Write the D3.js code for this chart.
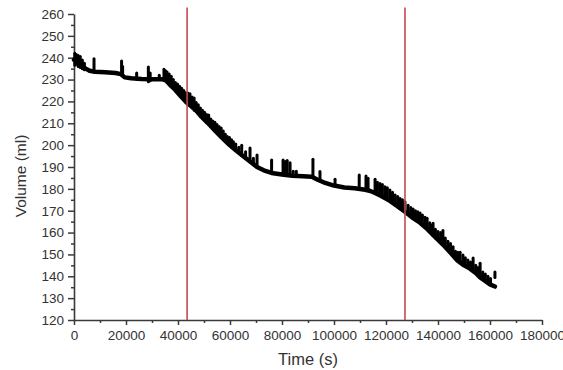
<!DOCTYPE html>
<html>
<head>
<meta charset="utf-8">
<script src="https://cdn.jsdelivr.net/npm/d3@7"></script>
<style>
  html, body { margin: 0; padding: 0; background: #fff; }
  svg { display: block; }
  text { font-family: "Liberation Sans", Arial, sans-serif; }
</style>
</head>
<body>
<svg id="chart" width="563" height="370"></svg>
<script>
// Main volume trace (time in s, volume in ml)
const traceTime = [0, 1500, 3000, 4500, 6000, 8000, 12000, 16000, 18000, 19500, 22000, 26000, 30000, 34000,
  35500, 37000, 38800, 41000, 43300, 46500, 49000, 51600, 54000, 56800, 59000, 61900, 64500, 67700, 70400,
  73000, 76000, 80000, 84000, 88000, 91500, 93500, 96000, 100000, 104000, 108000, 112000, 114000, 116000,
  118000, 121500, 124500, 127300, 130000, 133100, 136000, 138500, 141900, 145000, 147200, 150000, 152300,
  154500, 156200, 158000, 160000, 161900];
const traceVolume = [239, 238, 236.5, 235, 234, 233.6, 233.3, 233, 232.5, 231, 230.6, 230.3, 230.2, 230.2,
  229.5, 227.5, 225.5, 222.5, 219.5, 216.5, 213, 210, 207, 203.5, 201, 198, 195.5, 192.5, 190,
  188.5, 187.3, 186.6, 186, 185.8, 185.5, 184.3, 183, 181.5, 180.6, 180.3, 179.6, 179, 178,
  176.8, 174.5, 172, 169.5, 167, 164.5, 161.5, 158.5, 154.5, 150.5, 147.5, 145, 143.5,
  141.5, 139.5, 138, 136.3, 135.3];

// Scattered readings above the trace: time, lowest and highest volume
const spikeTime = [300, 900, 1600, 2400, 3200, 4000,
  7700, 18300, 18700, 24100, 28600, 29300, 32800, 34600, 35200, 35800,
  36600, 37400, 38200, 39000, 39800, 40600, 41400, 42200, 43000, 43800, 44600, 45400, 46200, 47000,
  47800, 48600, 49400, 50200, 51000, 51800, 52600, 53400, 54200, 55000, 55800, 56600, 57400, 58200,
  59000, 59800, 60600, 61300, 62200, 63400, 64500, 66000, 67700, 69000, 70400, 76000,
  80400, 81200, 82000, 83100, 84300, 85500, 91900, 94600, 100400, 109700, 112300, 113100,
  115800, 116700, 117700, 118600, 119600, 120500, 121500, 122500, 123500, 124500, 125400, 126300,
  127300, 128500, 129500, 130400, 131300, 132200, 133100, 134000, 135000, 135800, 136800, 137800,
  138100, 139000, 140000, 141000, 141900, 142800, 143800, 144800, 145800, 146700, 147600, 148500,
  149600, 150500, 151500, 152500, 153500, 154500, 155400, 156200, 157200, 158200, 159200, 160200, 161900];
const spikeLow = [236.5, 237, 236, 235.5, 235, 234.5,
  233.5, 232.5, 232, 230.3, 229, 229.5, 230, 229.8, 229.5, 229,
  228, 227, 226, 225, 224, 223, 222, 221, 220, 219, 218, 217, 216, 215.5,
  214.5, 213.5, 212.5, 211.5, 210.5, 209.5, 208.5, 207.5, 206.5, 205.5, 204.5, 203.5, 202.5, 201.5,
  201, 200, 199, 198.5, 197.5, 196.5, 195.5, 194, 192.5, 191, 190, 187.3,
  186.6, 186.5, 186.5, 186.3, 186, 186, 185.5, 184, 181.5, 180.2, 179.6, 179.4,
  178.1, 177.6, 177, 176.4, 175.7, 175, 174.5, 173.7, 172.8, 172, 171, 170.3,
  169.5, 168.4, 167.5, 166.8, 166, 165.3, 164.5, 163.5, 162.5, 161.8, 160.5, 159.3,
  158.5, 157.5, 156.5, 155.5, 154.5, 153.5, 152, 151, 150, 148.5, 147.2, 146.5,
  145.5, 144.8, 144, 143.3, 142.5, 141.5, 140.5, 139.5, 138.8, 138, 137.2, 136.3, 139.5];
const spikeHigh = [242, 241.5, 241, 240.5, 239, 237.5,
  239.5, 238.5, 236, 233, 235.8, 233, 232, 234.7, 234, 233.5,
  232.5, 231.5, 230, 228.7, 228, 227, 226, 225, 224, 223.8, 223.5, 222, 221.6, 219.5,
  218.5, 217, 216, 215, 214, 213.8, 212, 211, 210.5, 209.5, 208.5, 207.8, 206.5, 205,
  204, 203.5, 202.5, 201.6, 200.5, 199, 200, 197, 198.7, 194, 195.5, 193.2,
  193.2, 192.5, 193, 192, 188, 188, 193.5, 187.9, 184.4, 186.3, 185.9, 184.8,
  184.4, 183, 182.5, 182, 181, 180.5, 179.5, 178.5, 177.2, 176.5, 175.6, 175,
  174.1, 172.5, 171.5, 170.8, 170, 169.5, 169, 168, 167, 166.6, 164.5, 163.5,
  164.3, 161.5, 160.5, 160, 161, 157.5, 156, 155, 153.5, 151.5, 151, 151,
  149.7, 148.5, 147.5, 146.5, 148.4, 145, 144, 146, 142, 141, 140, 139, 142];

// Vertical reference lines
const markerTime = [43500, 127300];
const markerTop = 263;

// Axis ticks
const xTicks = [0, 20000, 40000, 60000, 80000, 100000, 120000, 140000, 160000, 180000];
const xMinorTicks = [10000, 30000, 50000, 70000, 90000, 110000, 130000, 150000, 170000];
const yTicks = [120, 130, 140, 150, 160, 170, 180, 190, 200, 210, 220, 230, 240, 250, 260];
const yMinorTicks = [125, 135, 145, 155, 165, 175, 185, 195, 205, 215, 225, 235, 245, 255];

const svg = d3.select("#chart");
const x = d3.scaleLinear().domain([0, 180000]).range([74, 542]);
const y = d3.scaleLinear().domain([120, 260]).range([320, 14]);

const axisColor = "#3a3a3a";
const labelColor = "#333";

// Minor ticks (drawn first so the main axes sit on top)
svg.append("g")
  .attr("transform", `translate(0,${y(120)})`)
  .call(d3.axisBottom(x).tickValues(xMinorTicks).tickSize(3).tickSizeOuter(0).tickFormat(""))
  .call(g => g.select(".domain").remove())
  .call(g => g.selectAll("line").attr("stroke", axisColor).attr("stroke-width", 1.5));
svg.append("g")
  .attr("transform", `translate(${x(0)},0)`)
  .call(d3.axisLeft(y).tickValues(yMinorTicks).tickSize(3).tickSizeOuter(0).tickFormat(""))
  .call(g => g.select(".domain").remove())
  .call(g => g.selectAll("line").attr("stroke", axisColor).attr("stroke-width", 1.5));

// Bottom axis
const gx = svg.append("g")
  .attr("transform", `translate(0,${y(120)})`)
  .call(d3.axisBottom(x).tickValues(xTicks).tickSize(5).tickSizeOuter(0).tickPadding(5).tickFormat(d3.format("d")));
gx.select(".domain").attr("stroke", axisColor).attr("stroke-width", 1.6);
gx.selectAll("line").attr("stroke", axisColor).attr("stroke-width", 1.5);
gx.selectAll("text").attr("fill", labelColor).attr("font-size", 13.5).attr("font-family", "Liberation Sans, Arial, sans-serif");

// Left axis
const gy = svg.append("g")
  .attr("transform", `translate(${x(0)},0)`)
  .call(d3.axisLeft(y).tickValues(yTicks).tickSize(6).tickSizeOuter(0).tickPadding(4));
gy.select(".domain").attr("stroke", axisColor).attr("stroke-width", 1.6);
gy.selectAll("line").attr("stroke", axisColor).attr("stroke-width", 1.5);
gy.selectAll("text").attr("fill", labelColor).attr("font-size", 13.5).attr("font-family", "Liberation Sans, Arial, sans-serif");

// Axis titles
svg.append("text")
  .attr("x", 308).attr("y", 365)
  .attr("text-anchor", "middle")
  .attr("font-size", 16.5)
  .attr("fill", labelColor)
  .text("Time (s)");
svg.append("text")
  .attr("transform", `translate(26,${176}) rotate(-90)`)
  .attr("text-anchor", "middle")
  .attr("font-size", 15.5)
  .attr("fill", labelColor)
  .text("Volume (ml)");

// Volume trace
const trace = traceTime.map((t, i) => [t, traceVolume[i]]);
svg.append("path")
  .datum(trace)
  .attr("fill", "none")
  .attr("stroke", "#000")
  .attr("stroke-width", 4.5)
  .attr("stroke-linejoin", "round")
  .attr("stroke-linecap", "round")
  .attr("d", d3.line().x(d => x(d[0])).y(d => y(d[1])));

// Scattered readings
svg.append("g")
  .selectAll("line")
  .data(spikeTime.map((t, i) => ({ t, lo: spikeLow[i], hi: spikeHigh[i] })))
  .join("line")
  .attr("x1", d => x(d.t)).attr("x2", d => x(d.t))
  .attr("y1", d => y(d.lo)).attr("y2", d => y(d.hi))
  .attr("stroke", "#000")
  .attr("stroke-width", 3)
  .attr("stroke-linecap", "round");

// Reference lines
svg.append("g")
  .selectAll("line")
  .data(markerTime)
  .join("line")
  .attr("x1", d => x(d)).attr("x2", d => x(d))
  .attr("y1", y(markerTop)).attr("y2", y(120))
  .attr("stroke", "#c04a55")
  .attr("stroke-width", 1.6);
</script>
</body>
</html>
